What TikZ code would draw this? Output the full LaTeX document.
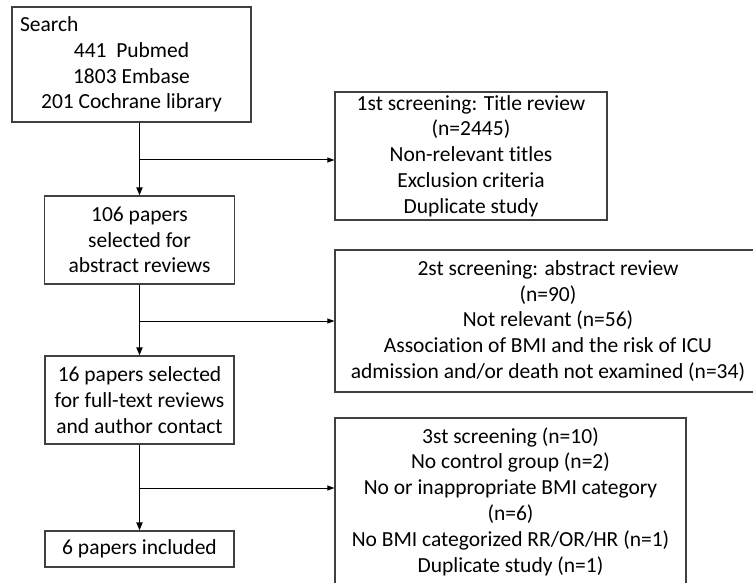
\documentclass[tikz,border=0pt]{standalone}
\usepackage{fontspec}
\setmainfont{Carlito}[Ligatures=NoCommon]
\usetikzlibrary{arrows.meta}
\tikzstyle{flow box} = [draw=black!75, line width=1.2pt, inner sep=0pt, align=center, font=\fontsize{21.5}{25.8}\selectfont]
\tikzstyle{fork point} = [coordinate]
\tikzstyle{main edge} = [draw, line width=1.8pt, -{Triangle[length=8pt,width=6pt]}]
\tikzstyle{side edge} = [draw, line width=1pt, -{Triangle[length=7pt,width=5pt]}]
\def\connect{search/abstract, abstract/fulltext, fulltext/included}
\def\forks{{(140,160)/titlerev/forkA}, {(140,321)/absrev/forkB}, {(140,488)/fullrev/forkC}}

\begin{document}
\begin{tikzpicture}[x=1pt, y=-1pt]

  \useasboundingbox (0,0) rectangle (753,583);

  % left column
  \node[flow box, minimum width=239, minimum height=115] (search) at (131.5,64.5)
    {\makebox[223pt][l]{Search}\\441~ Pubmed\\1803 Embase\\201 Cochrane library};
  \node[flow box, minimum width=190, minimum height=88] (abstract) at (139.5,240)
    {106 papers\\selected for\\abstract reviews};
  \node[flow box, minimum width=189, minimum height=88] (fulltext) at (139.5,400)
    {16 papers selected\\for full-text reviews\\and author contact};
  \node[flow box, minimum width=189, minimum height=36] (included) at (139.5,549)
    {6 papers included};

  % exclusions
  \node[flow box, minimum width=272, minimum height=128] (titlerev) at (471,156)
    {1st screening: Title review\\(n=2445)\\Non-relevant titles\\Exclusion criteria\\Duplicate study};
  \node[flow box, minimum width=426, minimum height=142] (absrev) at (548,321)
    {2st screening: abstract review\\(n=90)\\Not relevant (n=56)\\Association of BMI and the risk of ICU\\admission and/or death not examined (n=34)};
  \node[flow box, minimum width=351, minimum height=167] (fullrev) at (510.5,501.5)
    {3st screening (n=10)\\No control group (n=2)\\No or inappropriate BMI category\\(n=6)\\No BMI categorized RR/OR/HR (n=1)\\Duplicate study (n=1)};

  \foreach \pos/\dest/\fork in \forks {
    \node[fork point] (\fork) at \pos {};
    }

  \foreach \source/\dest in \connect {
    \path[main edge] (\source.south -| \dest) -- (\dest.north);
    }

  \foreach \dest/\fork in {titlerev/forkA, absrev/forkB, fullrev/forkC} {
    \path[side edge] (\fork) -- (\fork -| \dest.west);
    }

\end{tikzpicture}
\end{document}
